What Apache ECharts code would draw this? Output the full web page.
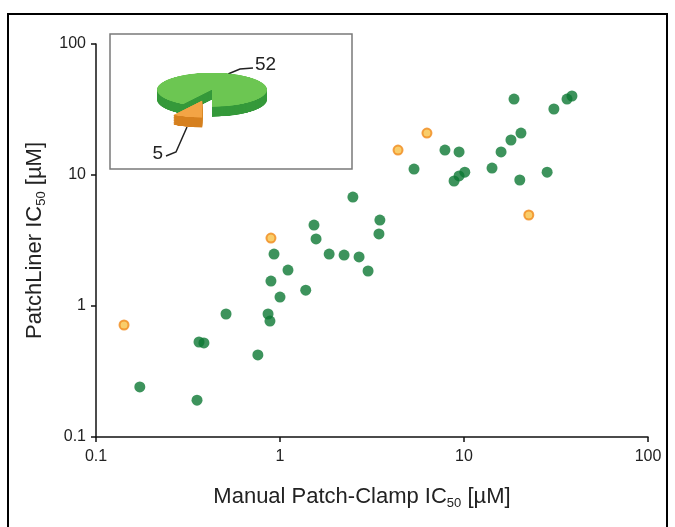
<!DOCTYPE html>
<html>
<head>
<meta charset="utf-8">
<script src="https://cdn.jsdelivr.net/npm/echarts@6/dist/echarts.min.js"></script>
<style>
  html, body { margin: 0; padding: 0; background: #fff; }
  #wrap { position: relative; width: 675px; height: 527px; overflow: hidden; }
  #main { position: absolute; left: 0; top: 0; width: 675px; height: 527px; }
  /* inset pie: drawn as a flat pie, then squashed to look tilted */
  #pie {
    position: absolute; left: 132px; top: 68px; width: 160px; height: 200px;
    transform: scaleY(0.31); transform-origin: 0 0;
  }
</style>
</head>
<body>
<div id="wrap">
  <div id="main"></div>
  <div id="pie"></div>
</div>
<script>
// --- data ---
const tickLabels = [0.1, 1, 10, 100]

// compounds that agree (green)
const agreeManual = [0.173, 0.354, 0.363, 0.386, 0.509, 0.758, 0.861, 0.882, 0.893, 0.928,
  1.0, 1.105, 1.38, 1.53, 1.57, 1.85, 2.23, 2.69, 2.49, 3.01,
  3.49, 3.45, 5.35, 7.88, 9.4, 8.83, 9.4, 10.1, 14.2, 15.9,
  18.0, 20.4, 20.1, 28.3, 18.7, 30.8, 36.3, 38.6]
const agreeLiner = [0.241, 0.191, 0.531, 0.522, 0.869, 0.423, 0.869, 0.767, 1.55, 2.49,
  1.17, 1.88, 1.32, 4.15, 3.25, 2.49, 2.45, 2.37, 6.79, 1.85,
  4.53, 3.55, 11.1, 15.5, 15.0, 9.0, 9.83, 10.5, 11.3, 15.0,
  18.5, 20.9, 9.16, 10.5, 38.0, 31.9, 38.0, 40.1]

// outliers (orange)
const outlierManual = [0.142, 0.893, 4.38, 6.29, 22.5]
const outlierLiner = [0.716, 3.30, 15.5, 20.9, 4.95]

// inset pie
const pieNames = ['outlier', 'agree']
const pieValues = [5, 52]

const GREEN = '#0c7833'
const ORANGE_FILL = '#f8c046'
const ORANGE_EDGE = '#f08a1c'
const FONT = '"Liberation Sans", Arial, sans-serif'

function zip(a, b) {
  return a.map((v, i) => [v, b[i]])
}

function tickFmt(v) {
  const t = tickLabels.find((t) => Math.abs(Math.log10(t) - Math.log10(v)) < 1e-6)
  return t === undefined ? '' : String(t)
}

const nameRich = {
  sub: { fontSize: 13, lineHeight: 13, verticalAlign: 'bottom', color: '#222', fontFamily: FONT },
}

function axisCommon(name, labelMargin, namePadding) {
  return {
    type: 'log',
    logBase: 10,
    min: tickLabels[0],
    max: tickLabels[tickLabels.length - 1],
    name: name,
    nameLocation: 'middle',
    nameGap: 47,
    nameTextStyle: {
      fontSize: 22, lineHeight: 26, color: '#222', fontFamily: FONT,
      padding: namePadding, rich: nameRich,
    },
    axisLine: { show: true, onZero: false, lineStyle: { color: '#111', width: 1.5 } },
    axisTick: { show: true, length: 5, lineStyle: { color: '#111', width: 1.5 } },
    minorTick: { show: false },
    splitLine: { show: false },
    axisLabel: { formatter: tickFmt, fontSize: 16, color: '#222', fontFamily: FONT, margin: labelMargin },
  }
}

const main = echarts.init(document.getElementById('main'))
main.setOption({
  animation: false,
  grid: { left: 96, right: 27, top: 44, bottom: 90 },
  // x title sits a little left of the axis middle in the original
  xAxis: axisCommon('Manual Patch-Clamp IC{sub|50} [µM]', 12, [0, 20, 0, 0]),
  yAxis: axisCommon('PatchLiner IC{sub|50} [µM]', 10, 0),
  series: [
    {
      type: 'scatter',
      data: zip(agreeManual, agreeLiner),
      symbolSize: 11,
      itemStyle: { color: GREEN },
      silent: true,
    },
    {
      type: 'scatter',
      data: zip(outlierManual, outlierLiner),
      symbolSize: 9,
      itemStyle: { color: ORANGE_FILL, borderColor: ORANGE_EDGE, borderWidth: 2 },
      silent: true,
    },
  ],
  graphic: [
    // outer frame
    { type: 'rect', shape: { x: 8, y: 14, width: 659, height: 530 }, style: { fill: 'none', stroke: '#000', lineWidth: 2 }, z: 100 },
    // inset box
    { type: 'rect', shape: { x: 110, y: 34, width: 242, height: 135 }, style: { fill: '#fff', stroke: '#7a7a7a', lineWidth: 1.5 }, z: 100 },
    // pie labels with leader lines
    { type: 'polyline', shape: { points: [[228, 74], [240, 69], [253, 68]] }, style: { stroke: '#222', lineWidth: 1.5, fill: 'none' }, z: 101 },
    { type: 'text', x: 255, y: 65, style: { text: String(pieValues[1]), font: '19px ' + FONT, fill: '#222', verticalAlign: 'middle' }, z: 101 },
    { type: 'polyline', shape: { points: [[166, 156], [176, 152], [187, 127]] }, style: { stroke: '#222', lineWidth: 1.5, fill: 'none' }, z: 101 },
    { type: 'text', x: 163, y: 154, style: { text: String(pieValues[0]), font: '19px ' + FONT, fill: '#222', align: 'right', verticalAlign: 'middle' }, z: 101 },
  ],
})

// --- fake 3D pie: stacked layers, squashed by CSS ---
const pie = echarts.init(document.getElementById('pie'))
const THICK = 32
const CX = 80
const CY = 70
const NONE = 'rgba(0,0,0,0)'
const sideColors = ['#d6801f', '#35993a']
const topColors = ['#f3a445', '#6cc652']

function layer(depth, which, color) {
  return {
    type: 'pie',
    center: [CX, CY + depth],
    radius: 55,
    startAngle: 270,
    clockwise: true,
    silent: true,
    selectedMode: 'single',
    selectedOffset: 36,
    label: { show: false },
    labelLine: { show: false },
    emphasis: { disabled: true },
    data: pieValues.map((v, i) => ({
      name: pieNames[i],
      value: v,
      selected: i === 0,
      itemStyle: { color: i === which ? color : NONE, borderWidth: 0 },
    })),
  }
}

const pieSeries = []
// green first, orange after so the pulled-out slice sits in front
for (const which of [1, 0]) {
  for (let d = THICK; d > 0; d -= 2) pieSeries.push(layer(d, which, sideColors[which]))
  pieSeries.push(layer(0, which, topColors[which]))
}
pie.setOption({ animation: false, series: pieSeries })
</script>
</body>
</html>
